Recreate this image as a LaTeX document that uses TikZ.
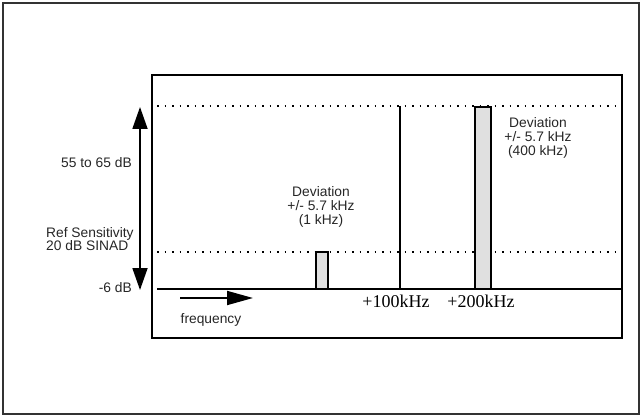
\documentclass[tikz,border=0pt]{standalone}
\usepackage{fontspec}
\setmainfont{Liberation Sans}
\newfontfamily\serifnum{Liberation Serif}
\usetikzlibrary{arrows.meta}
\begin{document}
\begin{tikzpicture}[x=1pt,y=-1pt,
  lbl/.style={inner sep=0pt,font=\fontsize{13.8}{14}\selectfont,text=black!85},
  khz/.style={inner sep=0pt,font=\serifnum\fontsize{18}{18}\selectfont},
  bar/.style={draw=black,fill=black!12,line width=1.4pt},
  dotline/.style={line width=1.3pt,dash pattern=on 1.5pt off 6pt},
  axis/.style={line width=1.4pt}]
\useasboundingbox (0,0) rectangle (642,417);
\draw[line width=2.2pt,draw=black!80] (3,3) rectangle (639,414);
\draw[line width=1.5pt] (152,75) rectangle (622,338);
% dotted levels
\coordinate (t0) at (157,106); \coordinate (t1) at (622,106);
\coordinate (l0) at (157,252); \coordinate (l1) at (622,252);
\draw[dotline] (t0) -- (t1);
\draw[dotline] (l0) -- (l1);
% baseline
\coordinate (b0) at (157,289); \coordinate (b1) at (622,289);
\draw[axis] (b0) -- (b1);
% bars
\draw[bar] (316,252) rectangle (328,289);
\draw[bar] (475,107) rectangle (491,289);
% 100 kHz line
\coordinate (c0) at (400,106); \coordinate (c1) at (400,289);
\draw[axis] (c0) -- (c1);
% vertical double arrow
\coordinate (a0) at (140,107); \coordinate (a1) at (140,290);
\draw[line width=1.8pt,{Triangle[width=15pt,length=22pt]}-{Triangle[width=15pt,length=22pt]}] (a0) -- (a1);
% frequency arrow
\coordinate (f0) at (180,298); \coordinate (f1) at (253,298);
\draw[line width=1.8pt,-{Triangle[width=14pt,length=26pt]}] (f0) -- (f1);
% labels
\node[lbl,anchor=east] (r1) at (132,163) {55 to 65 dB};
\node[lbl,anchor=west,align=left,font=\fontsize{13.8}{12.5}\selectfont] (r2) at (46,239) {Ref Sensitivity\\20 dB SINAD};
\node[lbl,anchor=east] (r3) at (132,288) {-6 dB};
\node[lbl,align=center] (d1) at (321,207) {Deviation\\+/- 5.7 kHz\\(1 kHz)};
\node[lbl,align=center] (d2) at (538,138) {Deviation\\+/- 5.7 kHz\\(400 kHz)};
\node[khz] (k1) at (396,301) {+100kHz};
\node[khz] (k2) at (481,301) {+200kHz};
\node[lbl] (fq) at (211,320) {frequency};
\end{tikzpicture}
\end{document}
